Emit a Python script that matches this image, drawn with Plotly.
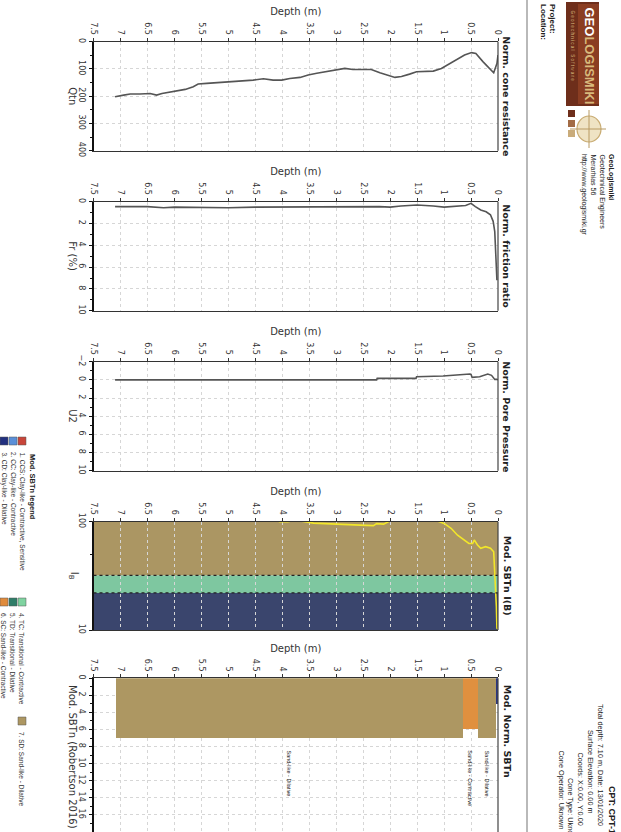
import plotly.graph_objects as go

W, H = 621, 832

# ---------------- data ----------------
qtn_depth = [0.0, 0.02, 0.08, 0.18, 0.28, 0.41, 0.49, 0.62, 0.77, 0.93, 1.05, 1.2, 1.39, 1.51, 1.64,
             1.79, 1.91, 2.0, 2.19, 2.35, 2.5, 2.69, 2.84, 2.99, 3.18, 3.36, 3.52, 3.67, 3.86, 4.01,
             4.17, 4.35, 4.54, 4.72, 4.97, 5.22, 5.4, 5.56, 5.65, 5.8, 5.99, 6.14, 6.23, 6.33, 6.45,
             6.64, 6.82, 6.94, 7.04, 7.1]
qtn = [49, 80, 114, 95, 73, 43, 40, 49, 67, 86, 98, 108, 110, 110, 119,
       128, 131, 126, 114, 102, 102, 102, 98, 104, 110, 116, 122, 131, 135, 141,
       141, 136, 141, 144, 147, 150, 153, 155, 165, 175, 182, 185, 190, 196, 190,
       192, 192, 196, 199, 202]

fr_depth = [0.02, 0.04, 0.06, 0.09, 0.14, 0.22, 0.32, 0.42, 0.5, 0.6, 0.8, 1.0, 1.2, 1.5, 1.8,
            2.0, 2.2, 2.5, 3.0, 3.5, 4.0, 4.5, 5.0, 5.5, 6.0, 6.2, 6.5, 7.1]
fr = [7.2, 4.1, 2.75, 1.8, 1.2, 0.92, 0.76, 0.45, 0.15, 0.35, 0.45, 0.5, 0.4, 0.3, 0.4,
      0.5, 0.45, 0.45, 0.45, 0.5, 0.5, 0.5, 0.55, 0.5, 0.5, 0.55, 0.45, 0.45]

u2_depth = [0.0, 0.02, 0.06, 0.12, 0.19, 0.34, 0.48, 0.5, 0.52, 0.77, 1.02, 1.51, 1.52, 2.24, 2.25, 3.0, 4.0, 5.0, 6.0, 7.1]
u2 = [0.0, -0.05, -0.05, -0.5, -0.64, -0.35, -0.27, -0.6, -0.64, -0.53, -0.42, -0.35, -0.16, -0.16, 0.0, 0.0, 0.0, 0.0, 0.0, 0.0]

ib_depth = [0.0, 0.02, 0.03, 0.055, 0.08, 0.14, 0.23, 0.32, 0.38, 0.44, 0.47, 0.54, 0.63, 0.75, 0.87, 1.0,
            1.13, 1.4, 1.7, 1.95, 2.03, 2.12, 2.25, 2.31, 2.56, 2.99, 3.42, 3.58, 3.75, 3.9, 4.05, 4.3, 5.0, 6.0, 7.1]
ib = [10.2, 10.4, 16.4, 31, 52.8, 56.8, 58.8, 56.8, 61, 67.8, 63, 63, 68, 75, 86.9, 96.5,
      102, 130, 140, 115, 100, 95, 96, 92, 93, 95, 97, 100, 103, 100, 100, 115, 130, 140, 150]
ib_zone_bounds = [10, 22, 32, 100]
ib_zone_colors = ["#3a456d", "#7ec7a0", "#ab9663"]

sbt_top = [0.0, 0.04, 0.38, 0.66]
sbt_bottom = [0.04, 0.38, 0.66, 7.10]
sbt_class = [3, 7, 6, 7]
sbt_label = ["", "Sand-like - Dilative", "Sand-like - Contractive", "Sand-like - Dilative"]

legend_items = ["1. CCS: Clay-like - Contractive, Sensitive", "2. CC: Clay-like - Contractive",
                "3. CD: Clay-like - Dilative", "4. TC: Transitional - Contractive",
                "5. TD: Transitional - Dilative", "6. SC: Sand-like - Contractive",
                "7. SD: Sand-like - Dilative"]
class_colors = {1: "#c8453a", 2: "#5a8fd8", 3: "#22307f", 4: "#7fd3a0",
                5: "#2f7d68", 6: "#e08b3c", 7: "#ad9762"}
bar_colors = {3: "#2b3680", 6: "#e0903f", 7: "#ad9762"}

panel_titles = ["Norm. cone resistance", "Norm. friction ratio", "Norm. Pore Pressure",
                "Mod. SBTn I(B)", "Mod. Norm. SBTn"]
panel_ytitles = ["Qtn", "Fr (%)", "U2", "I<sub>B</sub>", "Mod. SBTn (Robertson 2016)"]

# ---------------- layout helpers ----------------
X0, X1 = 93.5, 498.0
panels = [(41.7, 150.7), (201.7, 310.7), (361.7, 470.7), (521.7, 630.0), (678.3, 832.0)]
FONT = "DejaVu Sans"
TXT = "#333333"


def fx(x):
    return x / W


def fy(y):
    return 1 - y / H


fig = go.Figure()

fig.add_trace(go.Scatter(x=qtn_depth, y=qtn, mode="lines", line=dict(color="#555555", width=1.6),
                         xaxis="x", yaxis="y", showlegend=False))
fig.add_trace(go.Scatter(x=fr_depth, y=fr, mode="lines", line=dict(color="#555555", width=1.6),
                         xaxis="x2", yaxis="y2", showlegend=False))
fig.add_trace(go.Scatter(x=u2_depth, y=u2, mode="lines", line=dict(color="#555555", width=1.6),
                         xaxis="x3", yaxis="y3", showlegend=False))
fig.add_trace(go.Scatter(x=ib_depth, y=ib, mode="lines", line=dict(color="#f2e62a", width=1.6),
                         xaxis="x4", yaxis="y4", showlegend=False))
fig.add_trace(go.Bar(x=[(a + b) / 2 for a, b in zip(sbt_top, sbt_bottom)], y=sbt_class,
                     width=[b - a for a, b in zip(sbt_top, sbt_bottom)], base=0,
                     marker=dict(color=[bar_colors[c] for c in sbt_class], line=dict(width=0)),
                     xaxis="x5", yaxis="y5", showlegend=False))

yranges = [[400, 0], [10, 0], [10, -2], [1, 2], [18, 0]]
ydticks = [100, 2, 2, None, 2]

layout = dict(width=W, height=H, margin=dict(l=0, r=0, t=0, b=0, autoexpand=False),
              paper_bgcolor="white", plot_bgcolor="rgba(0,0,0,0)",
              font=dict(family=FONT, color=TXT, size=8), bargap=0, showlegend=False)

for i, (top, bot) in enumerate(panels):
    n = i + 1
    sx = "" if n == 1 else str(n)
    layout["xaxis" + sx] = dict(
        domain=[fx(X0), fx(X1)], range=[7.5, 0], side="top", anchor="y" + sx,
        tick0=0, dtick=0.5, tickangle=90, ticks="outside", ticklen=3, tickcolor="#333",
        tickfont=dict(size=8, color=TXT), showgrid=True, gridcolor="#d6d6d6", griddash="dot",
        gridwidth=1, showline=True, linecolor="#333", linewidth=1, mirror=True, zeroline=False,
        automargin=False,
        title=dict(text="Depth (m)", font=dict(size=10, color=TXT), standoff=4))
    ya = dict(domain=[fy(bot), fy(top)], range=yranges[i], anchor="x" + sx, tickangle=90,
              ticks="outside", ticklen=3, tickcolor="#111", tickfont=dict(size=8, color=TXT),
              showgrid=True, gridcolor="#d6d6d6", griddash="dot", gridwidth=1, automargin=False,
              showline=True, linecolor="#111", linewidth=2, mirror=False, zeroline=False,
              minor=dict(ticks="outside", ticklen=2, tickcolor="#111", showgrid=False))
    if ydticks[i] is not None:
        ya["dtick"] = ydticks[i]
        ya["tick0"] = 0
        ya["minor"]["dtick"] = ydticks[i] / 2
    else:
        ya["type"] = "log"
        ya["tickvals"] = [10, 100]
        ya["showgrid"] = False
        ya["minor"] = dict(ticks="outside", ticklen=2, tickcolor="#111", tickvals=[50])
    layout["yaxis" + sx] = ya

fig.update_layout(**layout)

shapes = []
annotations = []


def ann(text, x, y, size, color="#222", family=FONT, xanchor="center", yanchor="middle",
        xref="paper", yref="paper", angle=90):
    annotations.append(dict(xref=xref, yref=yref, x=x, y=y, xanchor=xanchor, yanchor=yanchor,
                            text=text, showarrow=False, textangle=angle,
                            font=dict(size=size, color=color, family=family)))


# Ib zones
for k in range(3):
    shapes.append(dict(type="rect", xref="x4", yref="y4", x0=7.5, x1=0,
                       y0=ib_zone_bounds[k], y1=ib_zone_bounds[k + 1],
                       fillcolor=ib_zone_colors[k], line=dict(width=0), layer="below"))
for v in ib_zone_bounds[1:3]:
    shapes.append(dict(type="line", xref="x4", yref="y4", x0=7.5, x1=0, y0=v, y1=v,
                       line=dict(color="#222", width=1.2, dash="dot")))
    ann(str(v), fx(88), v, 6, color="#9a9a9a", yref="y4")

# right borders, panel titles, y titles
for i, (top, bot) in enumerate(panels):
    sx = "" if i == 0 else str(i + 1)
    shapes.append(dict(type="line", xref="x" + sx + " domain", yref="y" + sx + " domain",
                       x0=1, x1=1, y0=0, y1=1, line=dict(color="#444", width=1.2)))
    if i == 4:
        ann("<b>" + panel_titles[i] + "</b>", fx(507), fy(top + 4), 9.5, yanchor="top")
        ann(panel_ytitles[i], fx(73), fy(683), 10, color=TXT, yanchor="top")
    else:
        ann("<b>" + panel_titles[i] + "</b>", fx(507), fy((top + bot) / 2), 9.5)
        ann(panel_ytitles[i], fx(73), fy((top + bot) / 2), 10, color=TXT)

# SBT labels
for a, b, lab in zip(sbt_top, sbt_bottom, sbt_label):
    if lab:
        ann(lab, (a + b) / 2, 8.2, 5.5, color="#111", family="Liberation Sans",
            yanchor="top", xref="x5", yref="y5")

# separator line
shapes.append(dict(type="line", xref="paper", yref="paper", x0=fx(527), x1=fx(527), y0=0, y1=1,
                   line=dict(color="#8a8a8a", width=1.2)))


def rot(text, x, y, size, color="#222", bold=False):
    t = "<b>" + text + "</b>" if bold else text
    ann(t, fx(x), fy(y), size, color=color, family="Liberation Sans", yanchor="top")


rot("Project:", 552, 2, 8, bold=True)
rot("Location:", 543, 2, 8, bold=True)

rot("GeoLogismiki", 611, 152, 7, bold=True)
rot("Geotechnical Engineers", 602, 152, 7)
rot("Merarhias 56", 593, 152, 7)
rot("http://www.geologismiki.gr", 584, 152, 7)

rot("CPT: CPT-1", 612, 784, 9, bold=True)
rot("Total depth: 7.10 m, Date: 13/01/2020", 601, 702, 7.3)
rot("Surface Elevation: 0.00 m", 591, 728, 7.3)
rot("Coords: X:0.00, Y:0.00", 580, 750, 7.3)
rot("Cone Type: Uknown", 571, 776, 7.3)
rot("Cone Operator: Uknown", 561, 748, 7.3)

# logo
shapes.append(dict(type="rect", xref="paper", yref="paper", x0=fx(566), x1=fx(599), y0=fy(106), y1=fy(2),
                   fillcolor="#6e2e1b", line=dict(width=0)))
shapes.append(dict(type="rect", xref="paper", yref="paper", x0=fx(578), x1=fx(599), y0=fy(104), y1=fy(4),
                   fillcolor="#8a3d22", line=dict(width=0)))
ann("<b><span style='color:#ffffff'>GEO</span><span style='color:#d8b97c'>LOGISMIKI</span></b>",
    fx(589), fy(5), 13, family="Liberation Sans", yanchor="top")
ann("G e o t e c h n i c a l   S o f t w a r e", fx(572), fy(8), 4.5, color="#d8b97c",
    family="Liberation Sans", yanchor="top")
shapes.append(dict(type="circle", xref="paper", yref="paper", x0=fx(577), x1=fx(601), y0=fy(142),
                   y1=fy(116), fillcolor="#efe3c4", line=dict(color="#c8ab72", width=1.2)))
shapes.append(dict(type="line", xref="paper", yref="paper", x0=fx(570), x1=fx(606), y0=fy(129), y1=fy(129),
                   line=dict(color="#b89a62", width=1)))
shapes.append(dict(type="line", xref="paper", yref="paper", x0=fx(589), x1=fx(589), y0=fy(110), y1=fy(148),
                   line=dict(color="#b89a62", width=1)))
for yy, col in zip([110, 120, 130], ["#6e2e1b", "#a26b45", "#c9ab7a"]):
    shapes.append(dict(type="rect", xref="paper", yref="paper", x0=fx(568), x1=fx(575),
                       y0=fy(yy + 7), y1=fy(yy), fillcolor=col, line=dict(width=0)))

# legend
rot("Mod. SBTn legend", 32, 452, 7.5, bold=True)
legend_pos = [(22, 437), (13, 437), (4, 437), (22, 598), (13, 598), (4, 598), (22, 717)]
for k, (lx, ly) in enumerate(legend_pos):
    shapes.append(dict(type="rect", xref="paper", yref="paper", x0=fx(lx - 4), x1=fx(lx + 4),
                       y0=fy(ly + 8), y1=fy(ly), fillcolor=class_colors[k + 1],
                       line=dict(color="#555", width=0.5)))
    rot(legend_items[k], lx, ly + 13, 6.5, color="#333")

fig.update_layout(shapes=shapes, annotations=annotations)
fig.write_html("out.html", config={"displayModeBar": False},
               post_script="document.body.style.margin='0';document.body.style.overflow='hidden';"
                           "document.documentElement.style.overflow='hidden';")
